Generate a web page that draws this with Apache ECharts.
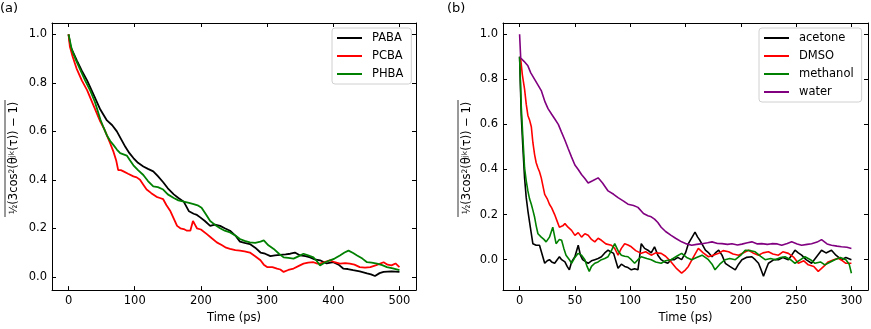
<!DOCTYPE html>
<html>
<head>
<meta charset="utf-8">
<script src="https://cdn.jsdelivr.net/npm/echarts@6.0.0/dist/echarts.min.js"></script>
<style>
  html, body { margin: 0; padding: 0; background: #fff; }
  #chart { width: 871px; height: 329px; }
</style>
</head>
<body>
<div id="chart"></div>
<script>
// panel (a)
const pabaT = [0,3,8,13,20,28,38,48,58,66,73,80,86,92,98,105,113,120,128,135,143,150,159,166,174,182,189,194,199,206,214,221,229,236,244,252,259,266,274,282,290,297,305,312,320,328,335,342,350,358,365,372,380,390,400,408,415,422,430,440,451,457,463,470,476,488,500];
const pabaY = [1.0,0.95,0.92,0.89,0.85,0.81,0.75,0.69,0.645,0.625,0.60,0.565,0.535,0.51,0.49,0.47,0.455,0.445,0.435,0.415,0.39,0.365,0.34,0.325,0.31,0.27,0.26,0.255,0.245,0.23,0.21,0.215,0.21,0.2,0.19,0.17,0.145,0.14,0.135,0.12,0.10,0.095,0.085,0.088,0.09,0.092,0.095,0.1,0.088,0.085,0.08,0.072,0.068,0.055,0.06,0.05,0.034,0.032,0.027,0.022,0.014,0.01,0.003,0.015,0.02,0.022,0.02];

const pcbaT = [0,2,6,12,20,28,38,48,53,58,63,68,72,75,79,83,90,98,103,108,113,118,125,133,138,143,148,154,159,164,169,174,179,184,188,191,194,200,209,216,224,232,238,244,252,259,266,274,282,290,295,300,308,315,320,325,332,340,348,355,362,370,376,380,388,395,402,410,418,425,432,440,448,456,465,476,482,488,494,500];
const pcbaY = [1.0,0.95,0.91,0.86,0.81,0.77,0.705,0.64,0.615,0.583,0.55,0.515,0.48,0.44,0.44,0.435,0.425,0.414,0.41,0.40,0.38,0.36,0.345,0.33,0.325,0.32,0.295,0.27,0.24,0.21,0.2,0.197,0.19,0.19,0.23,0.215,0.20,0.195,0.176,0.16,0.142,0.13,0.12,0.115,0.11,0.108,0.105,0.10,0.085,0.068,0.05,0.04,0.04,0.034,0.03,0.02,0.028,0.034,0.045,0.054,0.058,0.06,0.054,0.054,0.062,0.068,0.06,0.054,0.056,0.054,0.05,0.04,0.038,0.04,0.048,0.06,0.05,0.047,0.055,0.04];

const phbaT = [0,5,11,17.6,25,33,40,48,53,58,63,68,73,78,83,88,93,98,105,113,120,128,135,143,150,159,166,174,182,189,195,201,207,214,221,229,236,244,252,259,266,274,282,290,295,302,310,318,325,332,340,348,355,362,370,375,380,388,395,402,410,417,423,430,436,444,451,458,466,474,481,490,500];
const phbaY = [1.0,0.936,0.895,0.855,0.81,0.767,0.72,0.65,0.615,0.583,0.56,0.543,0.525,0.51,0.505,0.50,0.48,0.46,0.44,0.42,0.395,0.373,0.37,0.36,0.34,0.325,0.315,0.31,0.305,0.30,0.295,0.285,0.26,0.23,0.215,0.20,0.19,0.183,0.17,0.156,0.148,0.142,0.14,0.145,0.15,0.13,0.115,0.095,0.08,0.078,0.075,0.085,0.095,0.088,0.08,0.065,0.047,0.06,0.068,0.075,0.088,0.1,0.108,0.098,0.088,0.075,0.06,0.058,0.054,0.048,0.04,0.035,0.027];

// panel (b)
const acetoneT = [0,1.5,3,4.5,6,7.5,9.7,12,15,18,21,22.7,25,27,29,31.7,34,36,38,41,43,45,47,50,53,55,57,60,62,65,68,71,74,77,80,85,89,92,95,98,101,104,107,110,113,116,119,122,125,128,131,134,137,140,143,146.5,150,152.6,156,158.6,161,163,166,168,171,174,177,180,183,186,190,195,198,201,205,210,213,216,218,220.5,223,225,230,234,238,243,246,249,252,255,259,264,268,273,277,282,286,291,295,300];
const acetoneY = [0.9,0.64,0.494,0.363,0.275,0.217,0.144,0.071,0.064,0.064,0.013,-0.016,-0.005,0.0,-0.01,-0.016,0.0,0.013,0.0,-0.01,-0.03,-0.045,-0.01,0.013,0.064,0.02,0.0,-0.01,-0.016,-0.005,0.0,0.005,0.013,0.03,0.042,0.028,-0.038,-0.02,-0.03,-0.035,-0.045,-0.04,-0.045,0.071,0.05,0.042,0.03,0.057,0.02,0.0,-0.01,-0.016,0.0,0.0,0.01,0.0,0.03,0.071,0.1,0.122,0.1,0.086,0.06,0.042,0.03,0.013,0.03,0.042,0.02,-0.016,-0.03,-0.045,-0.02,0.0,0.01,0.013,0.0,-0.016,-0.04,-0.074,-0.04,-0.016,0.0,0.0,0.01,0.0,0.02,0.042,0.03,0.02,0.0,-0.016,0.01,0.042,0.03,0.042,0.02,0.0,0.01,0.0];

const dmsoT = [0,1,2.5,4.5,6,7.5,9,10.6,12,13.6,15,16.6,18,19.6,21,22.7,25,27,29,31.7,34,36,39,41,43.8,47,50,53,56,59,62,65,68,71,74,78,83,86,89,92,95,98,101,105,110,114,119,123,128,132,137,142,146.5,150,152.6,157,161.6,166,170.7,175,180,184,189,193,198,202,207,211,216,220,225,229,234,238,243,248,252,257,261,266,270,275,279,284,288,292,295,300];
const dmsoY = [0.9,0.89,0.82,0.757,0.69,0.64,0.62,0.59,0.52,0.465,0.43,0.407,0.39,0.363,0.33,0.29,0.27,0.246,0.23,0.20,0.17,0.144,0.15,0.16,0.144,0.13,0.108,0.12,0.10,0.115,0.108,0.09,0.079,0.095,0.086,0.07,0.064,0.05,0.02,0.05,0.071,0.065,0.057,0.04,0.028,0.035,0.02,0.03,0.028,0.015,-0.01,-0.04,-0.06,-0.045,-0.03,0.01,0.05,0.03,0.013,0.02,0.028,0.04,0.035,0.025,0.02,0.03,0.042,0.03,0.02,0.03,0.035,0.025,0.02,0.035,0.028,0.01,-0.016,-0.005,-0.023,-0.03,-0.052,-0.03,-0.01,0.0,0.006,-0.005,-0.016,-0.016];

const methanolT = [0,1.5,3,4.5,6,7.5,9,10.6,12,13.6,15,16.6,18,19.6,22,24,27,30,31,33,36,38,40,42,45,47,50,53,56,59,61,63,65,68,71,74,77,80,83,86,89,92,95,98,101,104,107,110,115,119,123,128,132,137,142,146.5,151,155.6,160,165,170.7,174,176.7,181,185.8,190,195,200,204,209,213,218,222,227,231,236,240,245,249,254,258,263,267,272,276,281,285,290,295,298,300];
const methanolY = [0.9,0.68,0.54,0.407,0.35,0.305,0.27,0.246,0.22,0.188,0.15,0.115,0.11,0.10,0.09,0.079,0.10,0.144,0.12,0.071,0.09,0.086,0.05,0.02,0.0,-0.016,0.01,0.028,0.02,0.0,-0.03,-0.052,-0.03,-0.016,-0.01,0.0,0.005,0.013,0.04,0.071,0.04,0.02,0.015,0.013,0.0,-0.016,0.0,0.013,0.005,0.0,-0.01,-0.016,-0.005,0.0,0.015,0.028,0.01,0.0,0.01,0.02,0.0,-0.02,-0.045,-0.02,0.0,0.005,0.0,0.02,0.042,0.04,0.035,0.015,0.0,0.005,0.0,0.01,0.013,0.0,-0.016,0.0,0.013,0.0,-0.016,-0.01,-0.023,-0.01,0.0,0.01,0.0,-0.02,-0.06];

const waterT = [0,1,4,7.5,10,13.6,16,19.6,23,25.7,29,31.7,35,37.8,41,43.8,47,50,53,56,59,62,66,71,75,80,85,89,94,98,103,107,112,116,119,122,125,128,132,137,141,146.5,151,155.6,160,165,170,174,179,183,188,192,197,201,206,210,215,219,224,228,233,237,242,246,251,255,260,264,269,273,278,282,287,291,296,300];
const waterY = [1.0,0.895,0.88,0.86,0.83,0.80,0.78,0.75,0.70,0.67,0.645,0.625,0.60,0.567,0.53,0.494,0.455,0.42,0.40,0.378,0.36,0.34,0.35,0.363,0.34,0.305,0.29,0.275,0.26,0.246,0.24,0.232,0.205,0.195,0.19,0.18,0.165,0.144,0.125,0.108,0.095,0.079,0.07,0.064,0.068,0.071,0.075,0.079,0.072,0.071,0.068,0.071,0.065,0.069,0.075,0.079,0.07,0.071,0.068,0.071,0.07,0.064,0.072,0.079,0.07,0.064,0.068,0.071,0.078,0.089,0.07,0.064,0.06,0.057,0.055,0.05];

const xTicksA = [0, 100, 200, 300, 400, 500];
const xTicksB = [0, 50, 100, 150, 200, 250, 300];
const yTicks = [0.0, 0.2, 0.4, 0.6, 0.8, 1.0];

const font = 'DejaVu Sans';

function pairs(t, y) {
  return t.map((v, i) => [v, y[i]]);
}

function xAxes(grid, min, max, ticks) {
  const line = {show: true, onZero: false, lineStyle: {color: '#000', width: 1}};
  return [
    {
      gridIndex: grid, type: 'value', position: 'bottom', min: min, max: max,
      axisLine: line,
      axisTick: {inside: true, length: 4, customValues: ticks, lineStyle: {color: '#000'}},
      axisLabel: {customValues: ticks, margin: 5, color: '#000', fontSize: 11.5, fontFamily: font},
      splitLine: {show: false},
      name: 'Time (ps)', nameLocation: 'middle', nameGap: 18,
      nameTextStyle: {color: '#000', fontSize: 11.5, fontFamily: font}
    },
    {
      gridIndex: grid, type: 'value', position: 'top', min: min, max: max,
      axisLine: line,
      axisTick: {inside: true, length: 4, customValues: ticks, lineStyle: {color: '#000'}},
      axisLabel: {show: false},
      splitLine: {show: false}
    }
  ];
}

function yAxes(grid, min, max) {
  const line = {show: true, onZero: false, lineStyle: {color: '#000', width: 1}};
  return [
    {
      gridIndex: grid, type: 'value', position: 'left', min: min, max: max,
      axisLine: line,
      axisTick: {inside: true, length: 4, customValues: yTicks, lineStyle: {color: '#000'}},
      axisLabel: {customValues: yTicks, margin: 5, color: '#000', fontSize: 11.5, fontFamily: font,
        formatter: v => v.toFixed(1)},
      splitLine: {show: false}
    },
    {
      gridIndex: grid, type: 'value', position: 'right', min: min, max: max,
      axisLine: line,
      axisTick: {inside: true, length: 4, customValues: yTicks, lineStyle: {color: '#000'}},
      axisLabel: {show: false},
      splitLine: {show: false}
    }
  ];
}

function lineSeries(name, t, y, color, xi, yi, w) {
  return {
    name: name, type: 'line', xAxisIndex: xi, yAxisIndex: yi,
    data: pairs(t, y), symbol: 'none', smooth: false, animation: false,
    lineStyle: {color: color, width: w}, itemStyle: {color: color}
  };
}

function yLabel(x, overX) {
  return [
    {
      type: 'text', x: x, y: 158, rotation: Math.PI / 2,
      style: {
        text: '{f|½}(3cos{s|2}(θ{s|jk}(τ)) − 1)',
        fill: '#000', fontSize: 11.5, fontFamily: font, align: 'center', verticalAlign: 'middle',
        rich: {
          f: {fontSize: 10, fontFamily: font},
          s: {fontSize: 7.5, fontFamily: font, verticalAlign: 'top'}
        }
      }
    },
    {type: 'line', shape: {x1: overX, y1: 100, x2: overX, y2: 217}, style: {stroke: '#000', lineWidth: 0.8}}
  ];
}

function legendBox(names, left) {
  return {
    data: names, left: left, top: 28, orient: 'vertical',
    icon: 'rect', itemWidth: 25, itemHeight: 2, itemGap: 4,
    padding: [3, 8, 3, 5],
    borderColor: '#d0d0d0', borderWidth: 1, borderRadius: 3, backgroundColor: '#fff',
    textStyle: {color: '#000', fontSize: 11.5, fontFamily: font, padding: [0, 0, 0, 5], lineHeight: 14}
  };
}

const chart = echarts.init(document.getElementById('chart'), null, {renderer: 'canvas'});
chart.setOption({
  backgroundColor: '#fff',
  animation: false,
  grid: [
    {left: 52, top: 23, width: 364, height: 271},
    {left: 503, top: 23, width: 365, height: 271}
  ],
  xAxis: [].concat(xAxes(0, -25, 525, xTicksA), xAxes(1, -15, 315, xTicksB)),
  yAxis: [].concat(yAxes(0, -0.055, 1.047), yAxes(1, -0.135, 1.05)),
  legend: [
    legendBox(['PABA', 'PCBA', 'PHBA'], 332),
    legendBox(['acetone', 'DMSO', 'methanol', 'water'], 759)
  ],
  graphic: [].concat(
    [
      {type: 'text', x: 0, y: 2, style: {text: '(a)', fill: '#000', fontSize: 13, fontFamily: font}},
      {type: 'text', x: 447, y: 2, style: {text: '(b)', fill: '#000', fontSize: 13, fontFamily: font}}
    ],
    yLabel(14, 5),
    yLabel(467, 458)
  ),
  series: [
    lineSeries('PABA', pabaT, pabaY, '#000000', 0, 0, 1.8),
    lineSeries('PCBA', pcbaT, pcbaY, '#ff0000', 0, 0, 1.8),
    lineSeries('PHBA', phbaT, phbaY, '#008000', 0, 0, 1.8),
    lineSeries('acetone', acetoneT, acetoneY, '#000000', 2, 2, 1.6),
    lineSeries('DMSO', dmsoT, dmsoY, '#ff0000', 2, 2, 1.6),
    lineSeries('methanol', methanolT, methanolY, '#008000', 2, 2, 1.6),
    lineSeries('water', waterT, waterY, '#800080', 2, 2, 1.6)
  ]
});
</script>
</body>
</html>
